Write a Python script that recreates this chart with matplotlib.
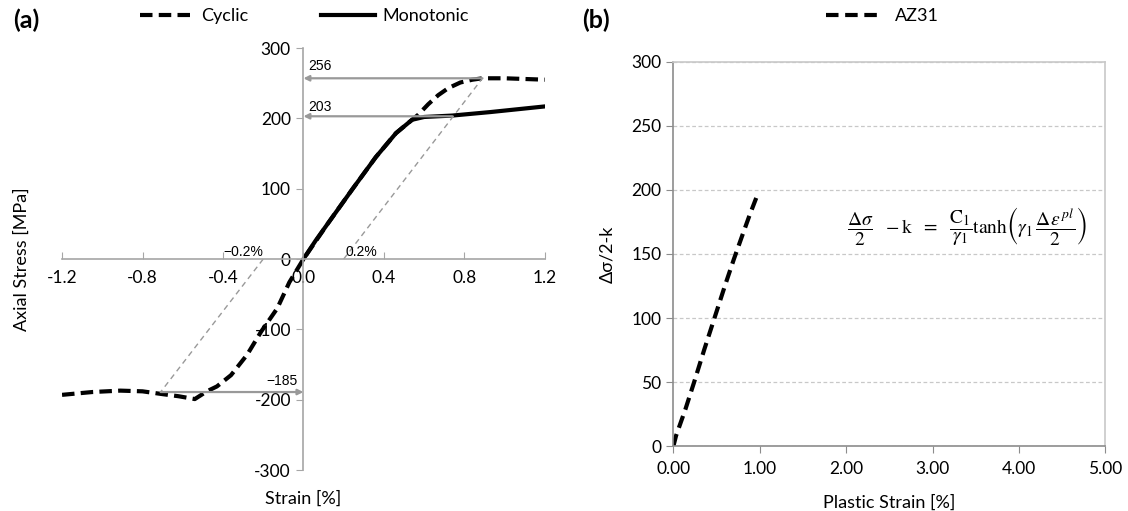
import matplotlib
matplotlib.use("Agg")
import matplotlib.pyplot as plt

plt.rcParams['font.family'] = ['Lato', 'DejaVu Sans']
plt.rcParams['mathtext.fontset'] = 'stix'

# (a) cyclic vs monotonic stress-strain
cyc_strain = [-1.2, -1.05, -0.91, -0.8, -0.7, -0.62, -0.54, -0.48, -0.43, -0.36, -0.28, -0.21,
              -0.13, -0.07, 0.0, 0.12, 0.245, 0.36, 0.46, 0.54, 0.57, 0.62, 0.67, 0.72, 0.78,
              0.84, 0.89, 1.0, 1.1, 1.2]
cyc_stress = [-193, -189, -187, -188, -192, -195, -199, -188, -181, -165, -136, -103,
              -70, -33, 0, 50, 100, 145, 179, 198, 205, 220, 233, 243, 251,
              255, 257, 257, 256, 255]
mono_strain = [0.0, 0.06, 0.12, 0.245, 0.36, 0.46, 0.54, 0.6, 0.74, 0.93, 1.2]
mono_stress = [0, 26, 50, 100, 145, 179, 198, 202, 204, 209, 217]

# 0.2% offset lines
off_pos_x = [0.2, 0.89]
off_pos_y = [0, 257]
off_neg_x = [-0.2, -0.71]
off_neg_y = [0, -189]

# (b) AZ31 kinematic hardening
pl_strain = [0.0, 0.03, 0.14, 0.24, 0.36, 0.48, 0.6, 0.7, 0.8, 0.88, 0.96]
hard_stress = [0, 8, 29, 50, 76, 101, 126, 146, 165, 180, 194]

fig = plt.figure(figsize=(11.28, 5.11), dpi=100)
ax1 = fig.add_axes([0.055, 0.080, 0.428, 0.826])
ax2 = fig.add_axes([0.597, 0.127, 0.383, 0.752])

axis_gray = '#a6a6a6'
ref_gray = '#999999'

# ---- panel (a)
l_cyc, = ax1.plot(cyc_strain, cyc_stress, color='black', lw=3, linestyle=(0, (3, 1.5)),
                  label='Cyclic')
l_mono, = ax1.plot(mono_strain, mono_stress, color='black', lw=3, label='Monotonic')
ax1.plot(off_pos_x, off_pos_y, color=ref_gray, lw=1, linestyle=(0, (4, 3)))
ax1.plot(off_neg_x, off_neg_y, color=ref_gray, lw=1, linestyle=(0, (4, 3)))

arrow = dict(arrowstyle='-|>', color=ref_gray, lw=1.6, mutation_scale=8, shrinkA=0, shrinkB=0)
ax1.annotate('', xy=(0.0, 257), xytext=(0.89, 257), arrowprops=arrow)
ax1.annotate('', xy=(0.0, 203), xytext=(0.74, 203), arrowprops=arrow)
ax1.annotate('', xy=(0.0, -189), xytext=(-0.71, -189), arrowprops=arrow)

lab = dict(fontsize=10, family=['Liberation Sans', 'DejaVu Sans'])
ax1.text(0.025, 274, '256', ha='left', va='center', **lab)
ax1.text(0.025, 216, '203', ha='left', va='center', **lab)
ax1.text(-0.03, -174, '\u2212185', ha='right', va='center', **lab)
ax1.text(-0.2, 10, '\u22120.2%', ha='right', va='center', **lab)
ax1.text(0.21, 10, '0.2%', ha='left', va='center', **lab)

ax1.set_xlim(-1.2, 1.2)
ax1.set_ylim(-300, 300)
ax1.set_xticks([-1.2, -0.8, -0.4, 0.0, 0.4, 0.8, 1.2])
ax1.set_xticklabels(['-1.2', '-0.8', '-0.4', '0.0', '0.4', '0.8', '1.2'])
ax1.set_yticks([-300, -200, -100, 0, 100, 200, 300])
ax1.set_yticklabels(['-300', '-200', '-100', '0', '100', '200', '300'])
ax1.spines['left'].set_position(('data', 0))
ax1.spines['bottom'].set_position(('data', 0))
ax1.spines['top'].set_visible(False)
ax1.spines['right'].set_visible(False)
for s in ('left', 'bottom'):
    ax1.spines[s].set_color(axis_gray)
    ax1.spines[s].set_linewidth(1.2)
ax1.tick_params(axis='x', direction='in', length=5, color=axis_gray, labelsize=12.5, pad=8)
ax1.tick_params(axis='y', direction='out', length=5, color=axis_gray, labelsize=12.5, pad=4)
ax1.set_ylabel('Axial Stress [MPa]', fontsize=13)
ax1.yaxis.set_label_coords(-0.066, 0.5)
ax1.set_xlabel('Strain [%]', fontsize=13)
ax1.xaxis.set_label_coords(0.5, -0.048)

fig.legend(handles=[l_cyc, l_mono], loc='center', bbox_to_anchor=(0.27, 0.968), ncol=2,
           frameon=False, fontsize=13, handlelength=3.0, handletextpad=0.4, columnspacing=4.0)
fig.text(0.012, 0.96, '(a)', fontsize=18, fontweight='bold', va='center')

# ---- panel (b)
l_az, = ax2.plot(pl_strain, hard_stress, color='black', lw=3, linestyle=(0, (3, 1.6)),
                 label='AZ31')
ax2.set_xlim(0, 5)
ax2.set_ylim(0, 300)
ax2.set_xticks([0, 1, 2, 3, 4, 5])
ax2.set_xticklabels(['0.00', '1.00', '2.00', '3.00', '4.00', '5.00'])
ax2.set_yticks([0, 50, 100, 150, 200, 250, 300])
ax2.yaxis.grid(True, color='#c8c8c8', lw=0.9, linestyle=(0, (3, 2)))
ax2.set_axisbelow(True)
for s in ('left', 'bottom'):
    ax2.spines[s].set_color('#8c8c8c')
    ax2.spines[s].set_linewidth(1.2)
for s in ('top', 'right'):
    ax2.spines[s].set_color('#c8c8c8')
    ax2.spines[s].set_linewidth(1.2)
ax2.tick_params(axis='both', direction='out', length=5, color='#8c8c8c', labelsize=12.5)
ax2.tick_params(axis='x', pad=6)
ax2.set_ylabel('\u0394\u03c3/2-k', fontsize=13)
ax2.yaxis.set_label_coords(-0.135, 0.5)
ax2.set_xlabel('Plastic Strain [%]', fontsize=13)
ax2.xaxis.set_label_coords(0.5, -0.125)

ax2.text(3.4, 172,
         r'$\dfrac{\Delta\sigma}{2}\ \ -\mathrm{k}\ \ =\ \ \dfrac{\mathrm{C}_1}{\gamma_1}\mathrm{tanh}'
         r'\left(\gamma_1\,\dfrac{\Delta\varepsilon^{\,pl}}{2}\right)$',
         ha='center', va='center', fontsize=14)

fig.legend(handles=[l_az], loc='center', bbox_to_anchor=(0.782, 0.968), frameon=False,
           fontsize=13, handlelength=3.0, handletextpad=0.8)
fig.text(0.516, 0.96, '(b)', fontsize=18, fontweight='bold', va='center')

fig.savefig('out.png', dpi=100)
